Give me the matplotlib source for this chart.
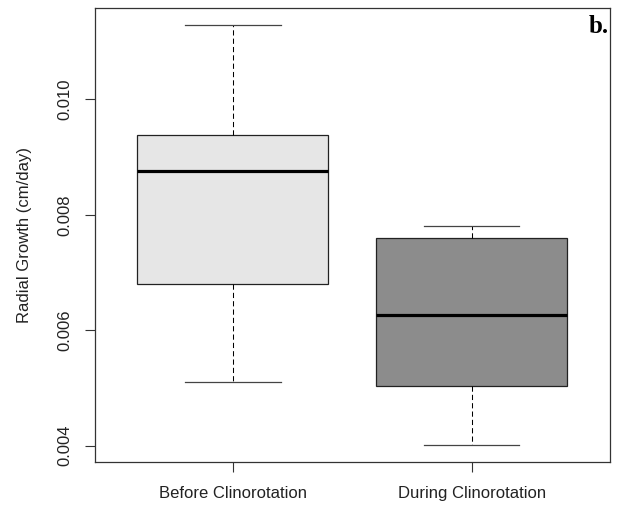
import matplotlib
matplotlib.use("Agg")
import matplotlib.pyplot as plt

# valores (cm/dia)
grupos = ["Before Clinorotation", "During Clinorotation"]
minimos = [0.00510, 0.00401]
q1 = [0.00680, 0.00503]
medianas = [0.00875, 0.00626]
q3 = [0.00939, 0.00759]
maximos = [0.01129, 0.00780]
rellenos = ["#e6e6e6", "#8c8c8c"]

plt.rcParams['font.family'] = ['Liberation Sans', 'DejaVu Sans']

fig = plt.figure(figsize=(6.19, 5.07), dpi=100)
ax = fig.add_axes([0.1527, 0.0888, 0.9855 - 0.1527, 0.9842 - 0.0888])

stats = []
for i in range(len(grupos)):
	stats.append({"label": grupos[i], "whislo": minimos[i], "q1": q1[i],
		"med": medianas[i], "q3": q3[i], "whishi": maximos[i], "fliers": []})

bp = ax.bxp(stats, positions=[1, 2], widths=0.8, patch_artist=True,
	showfliers=False,
	boxprops=dict(edgecolor="#222222", linewidth=0.9),
	medianprops=dict(color="black", linewidth=2.3, solid_capstyle="butt"),
	whiskerprops=dict(color="black", linewidth=0.75, linestyle=(0, (5, 3))),
	capprops=dict(color="#444444", linewidth=0.9),
	capwidths=0.4)

for caja, color in zip(bp["boxes"], rellenos):
	caja.set_facecolor(color)

ax.set_xlim(0.42, 2.58)
rango = max(maximos) - min(minimos)
ax.set_ylim(min(minimos) - 0.04 * rango, max(maximos) + 0.04 * rango)

ax.set_yticks([0.004, 0.006, 0.008, 0.010])
ax.set_yticklabels(["0.004", "0.006", "0.008", "0.010"], rotation=90, va="center")
ax.set_xticks([1, 2])
ax.set_xticklabels(grupos)
ax.tick_params(axis="both", direction="out", length=7, width=0.8, color="#333333",
	labelsize=12, labelcolor="#222222")
ax.tick_params(axis="y", pad=9)
ax.tick_params(axis="x", pad=10)

for lado in ax.spines.values():
	lado.set_color("#333333")
	lado.set_linewidth(0.9)

ax.set_ylabel("Radial Growth (cm/day)", fontsize=12, color="#222222", labelpad=18)

ax.text(0.998, 0.985, "b.", transform=ax.transAxes, ha="right", va="top",
	fontsize=18, fontweight="bold", family="Liberation Serif")

fig.savefig("out.png", dpi=100)
